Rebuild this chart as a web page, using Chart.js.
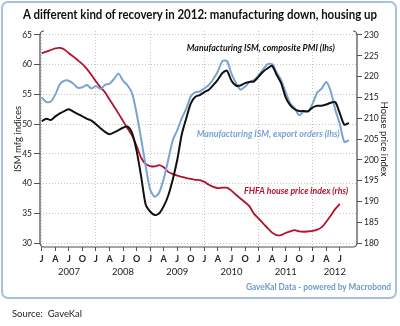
<!DOCTYPE html>
<html>
<head>
<meta charset="utf-8">
<script src="https://cdn.jsdelivr.net/npm/chart.js@4/dist/chart.umd.min.js"></script>
<style>
  body { margin: 0; width: 400px; height: 326px; background: #fff; position: relative; overflow: hidden;
         font-family: Lato, "Open Sans", sans-serif; }
  #box { position: absolute; left: 1px; top: 1px; width: 392px; height: 294px; border: 2px solid #a6c0de; border-radius: 7px; }
  .fit { position: absolute; white-space: nowrap; transform-origin: 0 50%; line-height: 1; }
  #title { left: 23px; top: 9px; font-weight: bold; font-size: 12.5px; color: #111; }
  #credit { left: 246px; top: 281px; font-weight: bold; font-size: 10px; color: #6f9acb; }
  #source { left: 12px; top: 308px; font-size: 10px; color: #222; }
  canvas { position: absolute; left: 0; top: 0; }
</style>
</head>
<body>
<div id="box"></div>
<canvas id="chart" width="400" height="326"></canvas>
<div id="title" class="fit" data-w="354">A different kind of recovery in 2012: manufacturing down, housing up</div>
<div id="credit" class="fit" data-w="145">GaveKal Data - powered by Macrobond</div>
<div id="source" class="fit" data-w="70">Source:&nbsp; GaveKal</div>
<script>
// Monthly series, index 0 = Jan 2007
const pmi = [50.5, 50.9, 50.7, 51.3, 51.8, 52.2, 52.5, 52.1, 51.7, 51.3,
             50.9, 50.6, 50.0, 49.3, 48.7, 48.3, 48.6, 49.0, 49.4, 49.6,
             48.5, 45.5, 41.2, 36.5, 35.3, 34.7, 35.0, 36.2, 38.0, 40.7,
             44.0, 48.3, 51.0, 53.5, 54.6, 54.9, 55.4, 55.8, 56.6, 57.5,
             58.6, 59.0, 57.3, 56.5, 56.5, 56.9, 57.1, 57.2, 58.0, 58.8,
             59.4, 59.8, 58.3, 56.9, 54.5, 53.2, 52.5, 52.2, 52.2, 52.2,
             52.8, 53.1, 53.1, 53.3, 53.6, 53.7, 51.8, 49.9, 50.2];
const exportOrders = [54.5, 53.7, 53.8, 55.0, 56.7, 57.3, 57.3, 56.8, 56.1, 56.2,
                      56.6, 56.0, 56.4, 55.9, 56.6, 56.8, 57.6, 58.5, 57.3, 56.5,
                      55.2, 51.8, 47.5, 43.0, 39.0, 37.8, 38.5, 40.8, 44.0, 47.3,
                      49.0, 51.0, 52.6, 54.7, 55.4, 55.5, 56.0, 56.6, 57.6, 58.9,
                      60.6, 60.6, 58.5, 56.9, 55.8, 56.3, 57.1, 57.4, 58.2, 59.2,
                      60.1, 60.1, 58.7, 57.4, 55.4, 53.5, 52.7, 51.5, 52.1, 52.1,
                      53.5, 55.3, 56.0, 57.1, 55.5, 52.4, 50.0, 47.0, 47.3];
const fhfa = [225.6, 226.0, 226.4, 226.8, 226.9, 226.5, 225.6, 224.8, 223.9, 223.0,
              221.8, 220.4, 218.8, 217.4, 216.2, 214.5, 212.8, 211.1, 209.3, 207.5,
              205.8, 203.3, 200.5, 199.0, 198.5, 198.4, 198.7, 198.2, 197.1, 196.6,
              196.2, 195.9, 195.6, 195.4, 195.2, 195.1, 194.7, 194.0, 193.5, 193.2,
              193.3, 193.3, 192.6, 191.6, 190.7, 189.8, 188.8, 187.0, 185.9, 184.7,
              183.6, 182.5, 181.9, 181.9, 182.4, 182.8, 183.1, 182.8, 182.7, 182.8,
              182.9, 183.2, 183.8, 185.1, 186.6, 188.2, 189.4];

const leftTicks = [30, 35, 40, 45, 50, 55, 60, 65];
const rightTicks = [180, 185, 190, 195, 200, 205, 210, 215, 220, 225, 230];
const quarterLetters = ["J", "A", "J", "O"];
const years = ["2007", "2008", "2009", "2010", "2011", "2012"];
const lastQuarterTick = 66;

const RED = "#b0122f";
const BLUE = "#7aa3d0";
const BLACK = "#111111";
const FONT = 'Lato, "Open Sans", sans-serif';
const X_MIN = -0.4, X_MAX = 69.8;

Chart.defaults.font.family = FONT;
Chart.defaults.color = "#222";

const toPoints = arr => arr.map((v, i) => ({ x: i, y: v }));

// squeeze the HTML captions to their set widths (the house font is condensed)
document.querySelectorAll(".fit").forEach(el => {
  const w = el.getBoundingClientRect().width;
  el.style.transform = "scaleX(" + (Number(el.dataset.w) / w) + ")";
});

// in-plot series labels, placed in data coordinates, w = drawn width
const notes = [
  { text: "Manufacturing ISM, composite PMI (lhs)", color: BLACK, axis: "y", x: 32.1, y: 62.9, w: 148 },
  { text: "Manufacturing ISM, export orders (lhs)", color: BLUE, axis: "y", x: 34.3, y: 48.45, w: 143 },
  { text: "FHFA house price index (rhs)", color: RED, axis: "y1", x: 44.8, y: 192.5, w: 104 }
];

const framePlugin = {
  id: "frame",
  afterDatasetsDraw(chart) {
    const { ctx, chartArea: a } = chart;
    const r = 4;
    ctx.save();
    ctx.strokeStyle = "#4a4a4a";
    ctx.lineWidth = 1.2;
    ctx.beginPath();
    ctx.moveTo(a.left + r, a.top);
    ctx.arcTo(a.left, a.top, a.left, a.top + r, r);
    ctx.lineTo(a.left, a.bottom - r);
    ctx.arcTo(a.left, a.bottom, a.left + r, a.bottom, r);
    ctx.lineTo(a.right - r, a.bottom);
    ctx.arcTo(a.right, a.bottom, a.right, a.bottom - r, r);
    ctx.lineTo(a.right, a.top + r);
    ctx.arcTo(a.right, a.top, a.right - r, a.top, r);
    ctx.stroke();
    ctx.restore();
  }
};

const notesPlugin = {
  id: "notes",
  afterDatasetsDraw(chart) {
    const { ctx, scales } = chart;
    ctx.save();
    ctx.font = "italic bold 10px " + FONT;
    ctx.textBaseline = "middle";
    ctx.textAlign = "left";
    notes.forEach(n => {
      const k = n.w / ctx.measureText(n.text).width;
      ctx.save();
      ctx.translate(scales.x.getPixelForValue(n.x), scales[n.axis].getPixelForValue(n.y));
      ctx.scale(k, 1);
      ctx.fillStyle = n.color;
      ctx.fillText(n.text, 0, 0);
      ctx.restore();
    });
    ctx.restore();
  }
};

const tickFont = { size: 8.5 };

new Chart(document.getElementById("chart"), {
  type: "line",
  data: {
    datasets: [
      { label: "Manufacturing ISM, composite PMI (lhs)", data: toPoints(pmi), yAxisID: "y",
        borderColor: BLACK, borderWidth: 2 },
      { label: "Manufacturing ISM, export orders (lhs)", data: toPoints(exportOrders), yAxisID: "y",
        borderColor: BLUE, borderWidth: 2 },
      { label: "FHFA house price index (rhs)", data: toPoints(fhfa), yAxisID: "y1",
        borderColor: RED, borderWidth: 1.8 }
    ]
  },
  options: {
    responsive: false,
    animation: false,
    devicePixelRatio: 1,
    layout: { padding: { left: 0, right: 0, top: 31, bottom: 46 } },
    elements: { point: { radius: 0 }, line: { tension: 0.25 } },
    plugins: { legend: { display: false }, tooltip: { enabled: false } },
    scales: {
      x: {
        type: "linear", min: X_MIN, max: X_MAX, position: "bottom", weight: 0,
        afterBuildTicks: s => {
          const t = [];
          for (let m = 0; m <= lastQuarterTick; m += 3) t.push({ value: m });
          s.ticks = t;
        },
        afterFit: s => { s.height = 15; },
        ticks: { callback: v => quarterLetters[(v / 3) % 4], font: { size: 9, weight: "bold" }, color: "#222",
                 padding: 3, maxRotation: 0, autoSkip: false },
        grid: { color: c => (c.tick && c.tick.value % 12 === 0) ? "#c4c4c4" : "rgba(0,0,0,0)",
                tickColor: "#555", tickLength: 4, lineWidth: 1 },
        border: { display: false, dash: [1, 2] }
      },
      yr: {
        type: "linear", min: X_MIN, max: X_MAX, position: "bottom", weight: 1,
        afterBuildTicks: s => {
          // each year label sits in the middle of its visible span
          s.ticks = years.map((y, i) => ({ value: (Math.max(i * 12, 0) + Math.min(i * 12 + 12, X_MAX)) / 2 }));
        },
        afterFit: s => { s.height = 18; },
        ticks: { callback: (v, i) => years[i], font: { size: 9.5 }, color: "#222", padding: -4,
                 maxRotation: 0, autoSkip: false },
        grid: { display: false },
        border: { display: false }
      },
      y: {
        position: "left", min: 29.33, max: 65.67,
        afterBuildTicks: s => { s.ticks = leftTicks.map(v => ({ value: v })); },
        afterFit: s => { s.width = 40; },
        ticks: { font: tickFont, color: "#222", padding: 2 },
        grid: { color: "#c4c4c4", tickColor: "#555", tickLength: 6 },
        border: { display: false, dash: [1, 2] },
        title: { display: true, text: "ISM mfg indices", font: { size: 9.5 }, color: "#222",
                 padding: { top: 12, bottom: 0 } }
      },
      y1: {
        position: "right", min: 179.04, max: 230.96,
        afterBuildTicks: s => { s.ticks = rightTicks.map(v => ({ value: v })); },
        afterFit: s => { s.width = 43; },
        ticks: { font: tickFont, color: "#222", padding: 2 },
        grid: { drawOnChartArea: false, tickColor: "#555", tickLength: 5 },
        border: { display: false },
        title: { display: true, text: "House price index", font: { size: 9.5 }, color: "#222",
                 padding: { top: 10.5, bottom: 0 } }
      }
    }
  },
  plugins: [framePlugin, notesPlugin]
});
</script>
</body>
</html>
